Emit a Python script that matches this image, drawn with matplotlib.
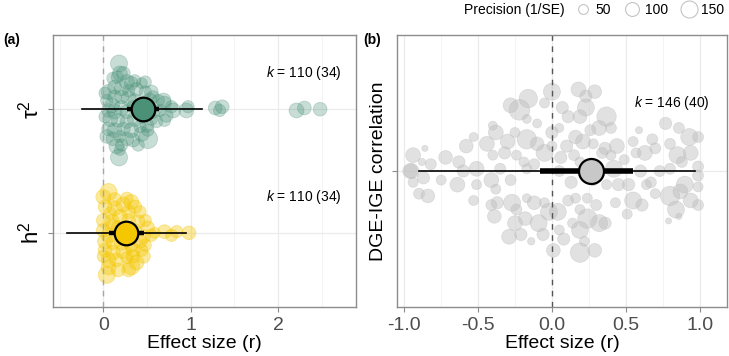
import matplotlib
matplotlib.use("Agg")
import matplotlib.pyplot as plt
from matplotlib.lines import Line2D
from matplotlib.ticker import MultipleLocator

plt.rcParams["font.family"] = ["Liberation Sans", "DejaVu Sans"]
plt.rcParams["mathtext.fontset"] = "custom"
plt.rcParams["mathtext.rm"] = "Liberation Sans"
plt.rcParams["mathtext.it"] = "Liberation Sans:italic"

# ---- panel (a): tau^2 effect sizes (x), jitter offset (y), precision (1/SE)
TAU_X = [0.18, 0.19, 0.16, 0.23, 0.11, 0.27, 0.32, 0.36, 0.44, 0.48, 0.06, 0.13,
         0.21, 0.29, 0.38, 0.48, 0.55, 0.57, 0.13, 0.04, 0.10, 0.21, 0.29, 0.36,
         0.53, 0.63, 0.70, 0.72, 0.78, 0.06, 0.13, 0.21, 0.27, 0.34, 0.70, 0.08,
         0.17, 0.27, 0.36, 0.46, 0.55, 0.61, 0.06, 0.13, 0.23, 0.32, 0.42, 0.50,
         0.44, 0.51, 0.11, 0.19, 0.27, 0.34, 0.15, 0.21, 0.19, 0.18, 0.40, 0.51,
         0.69, 0.80, 0.95, 0.97, 1.28, 1.33, 1.36, 2.21, 2.30, 2.48,
         0.02, 0.02, 0.04, 0.40, 0.48, 0.57, 0.65]
TAU_Y = [0.37, 0.29, 0.26, 0.29, 0.25, 0.22, 0.21, 0.23, 0.21, 0.22, 0.14, 0.18,
         0.17, 0.15, 0.16, 0.14, 0.14, 0.10, 0.10, 0.07, 0.03, 0.10, 0.09, 0.07,
         0.07, 0.07, 0.05, -0.05, 0.02, -0.01, -0.02, 0.01, -0.02, 0.02, -0.09, -0.08,
         -0.09, -0.10, -0.08, -0.06, -0.08, -0.10, -0.16, -0.17, -0.16, -0.17, -0.14, -0.13,
         -0.20, -0.24, -0.24, -0.22, -0.24, -0.25, -0.30, -0.29, -0.33, -0.39, -0.29, -0.17,
         0.07, -0.01, -0.01, 0.02, 0.01, -0.01, 0.02, -0.01, 0.01, 0.00,
         0.13, -0.06, -0.22, 0.01, -0.01, -0.02, -0.01]
TAU_PREC = [115, 88, 60, 75, 60, 88, 75, 60, 48, 60, 88, 75,
            88, 60, 75, 60, 75, 60, 75, 60, 88, 75, 88, 75,
            88, 60, 75, 75, 60, 75, 88, 88, 75, 60, 60, 88,
            75, 75, 88, 75, 60, 60, 75, 88, 75, 88, 60, 75,
            88, 150, 75, 60, 75, 75, 88, 60, 48, 115, 60, 60,
            88, 88, 88, 60, 75, 60, 75, 88, 75, 75,
            60, 60, 75, 88, 88, 75, 60]

# ---- panel (a): h^2
H2_X = [0.06, 0.00, 0.02, 0.08, 0.13, 0.23, 0.32, 0.36, 0.29, 0.19, 0.00, 0.10,
        0.42, 0.48, 0.40, 0.00, 0.06, 0.51, 0.55, 0.59, 0.46, 0.02, 0.11, 0.21,
        0.32, 0.42, 0.48, 0.02, 0.11, 0.23, 0.34, 0.44, 0.06, 0.15, 0.27, 0.34,
        0.38, 0.32, 0.06, 0.04, 0.29, 0.25, 0.17, 0.36, 0.70, 0.78, 0.84, 0.98,
        0.13, 0.27, 0.00, 0.17, 0.46, 0.29, 0.11]
H2_Y = [0.33, 0.29, 0.21, 0.16, 0.20, 0.23, 0.25, 0.21, 0.17, 0.13, 0.10, 0.09,
        0.17, 0.10, 0.09, 0.02, -0.02, 0.04, -0.02, 0.00, -0.03, -0.07, -0.08, -0.08,
        -0.10, -0.07, -0.10, -0.14, -0.16, -0.15, -0.14, -0.14, -0.22, -0.22, -0.20, -0.19,
        -0.24, -0.27, -0.28, -0.34, -0.30, 0.02, 0.04, 0.02, 0.01, -0.02, 0.01, 0.00,
        0.27, 0.28, -0.19, -0.30, -0.19, 0.10, 0.05]
H2_PREC = [115, 88, 75, 60, 88, 88, 88, 75, 75, 88, 75, 88,
           60, 60, 75, 75, 88, 75, 60, 48, 75, 88, 75, 88,
           75, 75, 60, 75, 88, 88, 75, 60, 88, 75, 60, 75,
           88, 115, 88, 115, 75, 88, 75, 75, 75, 60, 60, 75,
           75, 60, 60, 75, 75, 75, 88]

# ---- panel (b): DGE-IGE correlation
DGE_X = [0.00, 0.18, 0.23, 0.29, -0.16, -0.22, -0.28, -0.05, 0.07, 0.11, 0.23, 0.19,
         0.37, 0.32, 0.26, -0.17, -0.10, -0.40, -0.38, 0.05, 0.16, 0.00, 0.40, 0.59,
         0.77, 0.86, 0.93, 0.99, -0.25, -0.17, -0.30, -0.44, -0.53, -0.58, -0.10, -0.05,
         0.00, 0.10, 0.21, 0.28, 0.36, 0.44, 0.55, 0.68, 0.70, 0.80, 0.94, 0.85,
         0.88, 0.63, 0.57, 0.49, 0.40, 0.34, -0.72, -0.86, -0.94, -0.88, -0.82, -0.63,
         -0.51, -0.40, -0.32, -0.24, -0.19, -0.12, 0.06, 0.15, 0.19, -0.95, -0.60, -0.35,
         -0.17, 0.05, 0.42, 0.60, 0.73, 0.80, 0.99, 0.99, -0.96, -0.87, -0.94, -0.75,
         -0.64, -0.51, -0.41, -0.38, -0.90, -0.84, -0.53, -0.41, -0.37, -0.27, -0.17, -0.12,
         -0.39, -0.24, -0.05, -0.02, 0.04, 0.11, 0.19, 0.16, 0.24, 0.30, 0.37, 0.43,
         0.45, 0.52, 0.55, 0.61, 0.67, 0.70, 0.80, 0.87, 0.90, 0.94, 0.99, 0.99,
         0.84, 0.79, 0.51, 0.36, 0.32, 0.24, 0.14, 0.19, 0.05, 0.08, 0.22, 0.29,
         0.19, 0.01, -0.06, -0.09, -0.18, -0.25, -0.21, -0.29, -0.14, 0.86, 0.64, 0.13,
         0.28, -0.28]
DGE_Y = [0.35, 0.36, 0.33, 0.35, 0.32, 0.27, 0.29, 0.30, 0.28, 0.24, 0.28, 0.24,
         0.24, 0.19, 0.18, 0.23, 0.21, 0.20, 0.17, 0.19, 0.15, 0.17, 0.19, 0.18,
         0.21, 0.19, 0.15, 0.15, 0.17, 0.14, 0.13, 0.12, 0.15, 0.11, 0.12, 0.08,
         0.11, 0.11, 0.13, 0.12, 0.10, 0.11, 0.13, 0.14, 0.10, 0.12, 0.08, 0.07,
         0.04, 0.08, 0.08, 0.05, 0.07, 0.08, 0.06, 0.10, 0.07, 0.04, 0.03, 0.04,
         0.01, 0.07, 0.08, 0.07, 0.04, 0.03, 0.06, 0.07, 0.04, 0.00, 0.00, 0.01,
         0.01, 0.00, 0.01, 0.00, 0.00, 0.01, 0.02, -0.02, 0.00, -0.03, -0.05, -0.04,
         -0.06, -0.06, -0.04, -0.08, -0.10, -0.11, -0.13, -0.15, -0.14, -0.14, -0.12, -0.14,
         -0.20, -0.17, -0.14, -0.18, -0.18, -0.13, -0.17, -0.12, -0.12, -0.15, -0.06, -0.14,
         -0.06, -0.06, -0.13, -0.15, -0.05, -0.10, -0.11, -0.09, -0.06, -0.13, -0.15, -0.07,
         -0.17, -0.22, -0.19, -0.23, -0.23, -0.21, -0.23, -0.26, -0.26, -0.30, -0.31, -0.35,
         -0.36, -0.35, -0.28, -0.23, -0.21, -0.23, -0.28, -0.29, -0.31, -0.20, -0.06, -0.05,
         -0.04, -0.04]
DGE_PREC = [115, 88, 60, 75, 135, 170, 88, 40, 60, 60, 115, 75,
            150, 88, 48, 32, 32, 32, 88, 32, 75, 60, 48, 20,
            60, 48, 115, 48, 40, 150, 88, 88, 32, 75, 75, 115,
            40, 60, 88, 40, 60, 88, 40, 48, 48, 48, 88, 115,
            48, 88, 40, 40, 40, 48, 75, 15, 88, 22, 48, 60,
            88, 40, 60, 40, 40, 48, 60, 48, 40, 88, 60, 48,
            40, 48, 115, 60, 48, 48, 48, 48, 88, 60, 40, 40,
            88, 40, 88, 40, 48, 75, 40, 48, 60, 115, 32, 75,
            75, 48, 40, 115, 115, 48, 40, 40, 40, 48, 40, 40,
            60, 60, 115, 60, 48, 40, 150, 88, 115, 88, 48, 40,
            115, 15, 40, 60, 115, 150, 40, 115, 40, 60, 40, 75,
            150, 75, 60, 115, 75, 88, 60, 88, 22, 15, 40, 60,
            48, 48]

# ---- summary estimates: mean, CI, prediction interval
GROUP_LABELS_A = [r"$\mathregular{h^2}$", r"$\mathregular{τ^2}$"]
MEAN_A = [0.26, 0.45]
CI_LO_A = [0.07, 0.27]
CI_HI_A = [0.47, 0.64]
PI_LO_A = [-0.42, -0.24]
PI_HI_A = [0.95, 1.13]
K_LABELS_A = ["110 (34)", "110 (34)"]
COLORS_A = ["#F5C700", "#4A9178"]
ALPHAS_A = [0.38, 0.3]

MEAN_B = 0.264
CI_B = (-0.08, 0.55)
PI_B = (-0.90, 0.97)
K_LABEL_B = "146 (40)"

LEGEND_PREC = [50, 100, 150]
POINT_SCALE = 1.3  # marker area per unit of precision for the data points


def style_axes(ax):
    for sp in ax.spines.values():
        sp.set_color("#8c8c8c")
        sp.set_linewidth(1.0)
    ax.grid(True, which="major", color="#EBEBEB", linewidth=0.9)
    ax.grid(True, which="minor", axis="x", color="#F2F2F2", linewidth=0.6)
    ax.set_axisbelow(True)
    ax.tick_params(axis="both", which="major", colors="#8c8c8c", length=3.5,
                   labelcolor="#4D4D4D", labelsize=14)
    ax.tick_params(axis="both", which="minor", length=0)
    ax.set_xlabel("Effect size (r)", fontsize=14, labelpad=1)


fig = plt.figure(figsize=(7.29, 3.56), dpi=100)
ax_a = fig.add_axes([0.0727, 0.1376, 0.4156, 0.764])
ax_b = fig.add_axes([0.5446, 0.1376, 0.4527, 0.764])

# panel (a)
point_sets = [(H2_X, H2_Y, H2_PREC), (TAU_X, TAU_Y, TAU_PREC)]
for i, (xs, ys, ps) in enumerate(point_sets):
    pos = i + 1
    ax_a.scatter(xs, [pos + y for y in ys], s=[p * POINT_SCALE for p in ps],
                 color=COLORS_A[i], alpha=ALPHAS_A[i], edgecolors=COLORS_A[i],
                 linewidths=0.6, zorder=2)
    ax_a.plot([PI_LO_A[i], PI_HI_A[i]], [pos, pos], color="black", lw=1.2, zorder=3)
    ax_a.plot([CI_LO_A[i], CI_HI_A[i]], [pos, pos], color="black", lw=3.2,
              solid_capstyle="butt", zorder=3)
    ax_a.plot([MEAN_A[i]], [pos], "o", ms=17, mfc=COLORS_A[i], mec="black",
              mew=1.6, zorder=4)
    ax_a.text(2.73, pos + 0.29, r"$\it{k}$ = " + K_LABELS_A[i], ha="right",
              va="center", fontsize=10)

ax_a.axvline(0, color="#A6A6A6", lw=1.0, ls=(0, (4, 4)), zorder=2.5)
ax_a.set_xlim(-0.575, 2.89)
ax_a.set_ylim(0.4, 2.6)
ax_a.set_yticks([1, 2])
ax_a.set_yticklabels(GROUP_LABELS_A, rotation=90, va="center")
ax_a.xaxis.set_major_locator(MultipleLocator(1))
ax_a.xaxis.set_minor_locator(MultipleLocator(0.5))
style_axes(ax_a)
ax_a.tick_params(axis="y", labelsize=16, labelcolor="black")

# panel (b)
ax_b.scatter(DGE_X, [1 + y for y in DGE_Y], s=[p * POINT_SCALE for p in DGE_PREC],
             color="#BDBDBD", alpha=0.45, edgecolors="#BDBDBD", linewidths=0.5,
             zorder=2)
ax_b.axvline(0, color="#555555", lw=1.0, ls=(0, (4, 4)), zorder=2.5)
ax_b.plot(PI_B, [1, 1], color="black", lw=1.2, zorder=3)
ax_b.plot(CI_B, [1, 1], color="black", lw=4.0, solid_capstyle="butt", zorder=3)
ax_b.plot([MEAN_B], [1], "o", ms=18, mfc="#C8C8C8", mec="black", mew=1.6, zorder=4)
ax_b.text(1.07, 1.30, r"$\it{k}$ = " + K_LABEL_B, ha="right", va="center", fontsize=10)
ax_b.set_xlim(-1.049, 1.186)
ax_b.set_ylim(0.4, 1.6)
ax_b.set_yticks([1])
ax_b.set_yticklabels(["DGE-IGE correlation"], rotation=90, va="center")
ax_b.xaxis.set_major_locator(MultipleLocator(0.5))
ax_b.xaxis.set_minor_locator(MultipleLocator(0.25))
ax_b.xaxis.set_major_formatter(plt.FuncFormatter(lambda v, _: f"{v:.1f}"))
style_axes(ax_b)
ax_b.tick_params(axis="y", labelcolor="black")

# panel tags
fig.text(0.004, 0.887, "(a)", fontsize=10, fontweight="bold", va="center")
fig.text(0.498, 0.887, "(b)", fontsize=10, fontweight="bold", va="center")

# size legend
handles = [Line2D([], [], ls="", marker="o", ms=p ** 0.5, mfc="none",
                  mec="#C4C4C4", mew=0.8) for p in LEGEND_PREC]
fig.text(0.636, 0.972, "Precision (1/SE)", fontsize=10, va="center")
fig.legend(handles, [str(p) for p in LEGEND_PREC], ncol=3, frameon=False,
           loc="center right", bbox_to_anchor=(1.005, 0.972), fontsize=10,
           handletextpad=0.3, columnspacing=0.9, handlelength=1.2,
           borderpad=0.1)

fig.savefig("out.png", dpi=100)
